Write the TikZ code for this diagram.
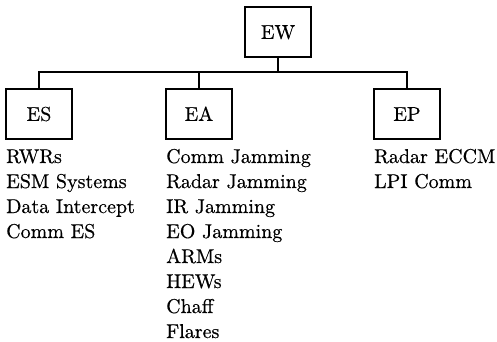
\documentclass[tikz,border=0pt]{standalone}
\usepackage{fontspec}
\setmainfont{lmroman10-regular.otf}[FakeBold=0.5]
\begin{document}
\begin{tikzpicture}[x=1pt,y=-1pt,
  catbox/.style={draw,line width=1.2pt,minimum width=66pt,minimum height=50pt,inner sep=0pt,
    text height=13.7pt,text depth=0pt,font=\fontsize{20}{25}\selectfont},
  item/.style={anchor=base west,inner sep=0pt,font=\fontsize{20}{25}\selectfont},
  link/.style={line width=1.2pt}]
\useasboundingbox (0,0) rectangle (497,342);
\node[catbox] (ew) at (278,32) {EW};
\node[catbox] (es) at (39,114) {ES};
\node[catbox] (ea) at (199,114) {EA};
\node[catbox] (ep) at (407,114) {EP};
\coordinate (bus) at (278,72);
\draw[link] (ew.south) -- (bus);
\draw[link] (es.north) |- (bus) -| (ep.north);
\draw[link] (ea.north) -- (ea.north |- bus);
\foreach \t [count=\i] in {RWRs,ESM Systems,Data Intercept,Comm ES}
  \node[item] (es\i) at (6,{163+25*(\i-1)}) {\t};
\foreach \t [count=\i] in {Comm Jamming,Radar Jamming,IR Jamming,EO Jamming,ARMs,HEWs,Chaff,Flares}
  \node[item] (ea\i) at (166,{163+25*(\i-1)}) {\t};
\foreach \t [count=\i] in {Radar ECCM,LPI Comm}
  \node[item] (ep\i) at (374,{163+25*(\i-1)}) {\t};
\end{tikzpicture}
\end{document}
